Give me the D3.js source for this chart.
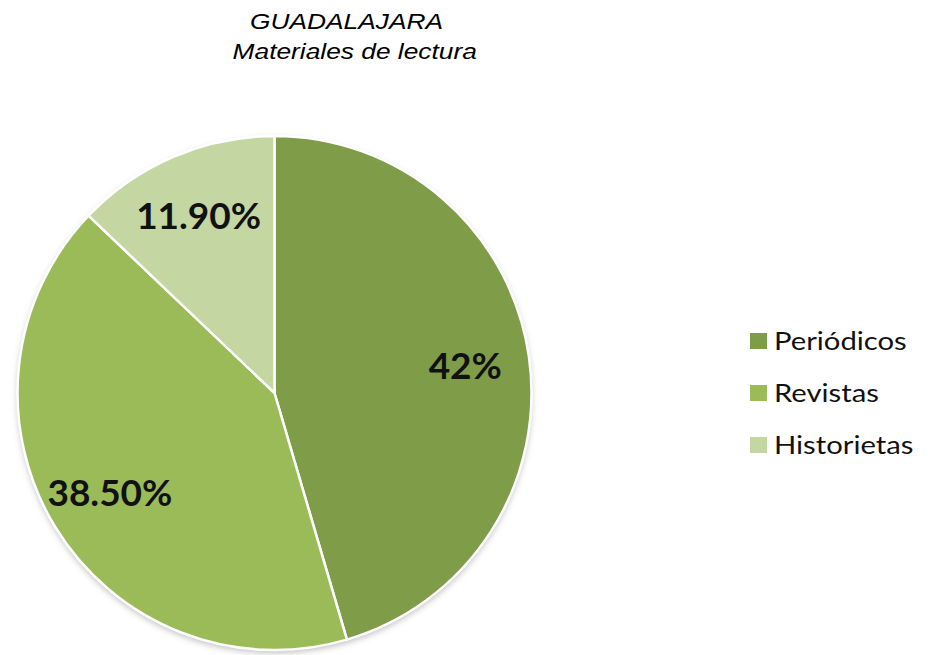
<!DOCTYPE html>
<html>
<head>
<meta charset="utf-8">
<script src="https://cdn.jsdelivr.net/npm/d3@7"></script>
<style>
  body { margin: 0; background: #fff; }
</style>
</head>
<body>
<div id="chart-area"></div>
<script>
const WIDTH = 928
const HEIGHT = 655

// data
const categories = ["Periódicos", "Revistas", "Historietas"]
const values = [42, 38.5, 11.9]
const labels = ["42%", "38.50%", "11.90%"]
const colors = ["#7f9c48", "#9bbb59", "#c4d6a2"]

const svg = d3.select("#chart-area").append("svg")
	.attr("width", WIDTH)
	.attr("height", HEIGHT)

// soft shadow under the pie
const defs = svg.append("defs")
const filter = defs.append("filter").attr("id", "shadow")
	.attr("x", "-10%").attr("y", "-10%").attr("width", "120%").attr("height", "120%")
filter.append("feDropShadow")
	.attr("dx", 0).attr("dy", 3).attr("stdDeviation", 3)
	.attr("flood-color", "#000").attr("flood-opacity", 0.25)

// title (the original is stretched a little horizontally)
const title = svg.append("g")
	.attr("transform", "translate(350, 0) scale(1.17, 1)")
	.attr("font-family", "Liberation Sans, Arial, sans-serif")
	.attr("font-style", "italic")
	.attr("font-size", "22.5px")
	.attr("fill", "#000")
	.attr("text-anchor", "middle")
title.append("text").attr("x", -3).attr("y", 29).text("GUADALAJARA")
title.append("text").attr("x", 4).attr("y", 59).text("Materiales de lectura")

// pie
const CX = 274.5
const CY = 393
const R = 257

const pie = d3.pie().sort(null).value(d => d)
const arc = d3.arc().innerRadius(0).outerRadius(R)
const arcs = pie(values)

const g = svg.append("g")
	.attr("transform", `translate(${CX}, ${CY})`)

g.append("circle")
	.attr("r", R)
	.attr("fill", "#fff")
	.attr("filter", "url(#shadow)")

g.selectAll("path")
	.data(arcs)
	.enter().append("path")
	.attr("d", arc)
	.attr("fill", (d, i) => colors[i])
	.attr("stroke", "#fff")
	.attr("stroke-width", 2.5)
	.attr("stroke-linejoin", "round")

// slice labels
const labelArc = d3.arc().innerRadius(R * 0.75).outerRadius(R * 0.75)
g.selectAll(".slice-label")
	.data(arcs)
	.enter().append("text")
	.attr("class", "slice-label")
	.attr("transform", d => {
		const c = labelArc.centroid(d)
		return `translate(${c[0]}, ${c[1]})`
	})
	.attr("dy", "0.35em")
	.attr("text-anchor", "middle")
	.attr("font-family", "Lato, 'Open Sans', sans-serif")
	.attr("font-weight", "bold")
	.attr("font-size", "37px")
	.attr("fill", "#111")
	.text((d, i) => labels[i])

// legend
const legend = svg.append("g")
	.attr("transform", "translate(750, 341)")
const rows = legend.selectAll("g")
	.data(categories)
	.enter().append("g")
	.attr("transform", (d, i) => `translate(0, ${i * 52})`)
rows.append("rect")
	.attr("x", 0).attr("y", -8)
	.attr("width", 17).attr("height", 16)
	.attr("fill", (d, i) => colors[i])
rows.append("text")
	.attr("transform", "translate(24, 0) scale(1.17, 1)")
	.attr("dy", "0.36em")
	.attr("font-family", "Lato, 'Open Sans', sans-serif")
	.attr("font-size", "25px")
	.attr("fill", "#111")
	.text(d => d)
</script>
</body>
</html>
